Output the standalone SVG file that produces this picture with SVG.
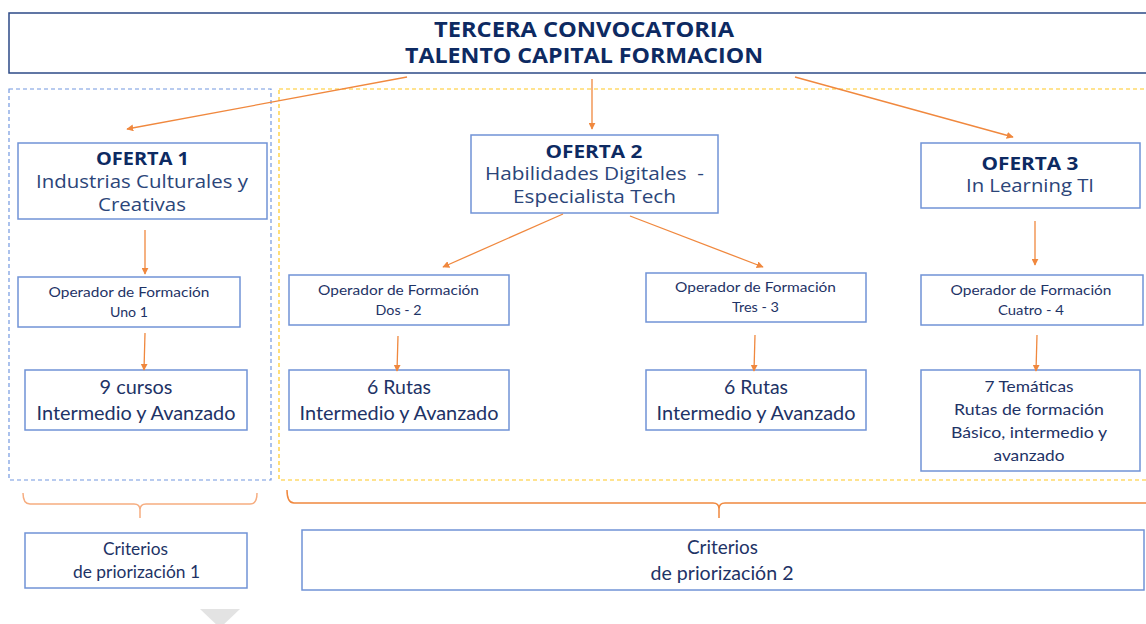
<svg xmlns="http://www.w3.org/2000/svg" width="1146" height="624" viewBox="0 0 1146 624">
<defs>
<marker id="ah" viewBox="0 0 10 10" refX="9" refY="5" markerWidth="7" markerHeight="7" markerUnits="userSpaceOnUse" orient="auto">
<path d="M0,0 L10,5 L0,10 z" fill="#f0883e"/>
</marker>
<style>
.box{fill:#fff;stroke:#7093d6;stroke-width:1.5}
.tbox{fill:#fff;stroke:#2d4a86;stroke-width:1.5}
.ttl{font-family:"Open Sans",sans-serif;font-weight:700;fill:#0d2a62;text-anchor:middle}
.mont{font-family:"Open Sans",sans-serif;fill:#2b4579;text-anchor:middle;white-space:pre}
.cal{font-family:Lato,"Liberation Sans",sans-serif;fill:#1e3366;text-anchor:middle}
.con line{stroke:#f0883e;stroke-width:1.3;marker-end:url(#ah)}
.brace{fill:none;stroke:#f6ad80;stroke-width:1.5}
</style>
</defs>
<rect width="1146" height="624" fill="#fff"/>
<rect x="9" y="89" width="262" height="391" fill="none" stroke="#7398e0" stroke-width="1.2" stroke-dasharray="4,3"/>
<rect x="279" y="89" width="875" height="391" fill="none" stroke="#ffc820" stroke-width="1.2" stroke-dasharray="4,3"/>
<g id="title">
<rect class="tbox" x="9" y="13" width="1145" height="60"/>
<text class="ttl" x="584" y="37" font-size="21" textLength="300" lengthAdjust="spacingAndGlyphs">TERCERA CONVOCATORIA</text>
<text class="ttl" x="584" y="63" font-size="21" textLength="358" lengthAdjust="spacingAndGlyphs">TALENTO CAPITAL FORMACION</text>
</g>
<g id="oferta1">
<rect class="box" x="18" y="143" width="249" height="76"/>
<text class="ttl" x="142.5" y="165" font-size="17.5" textLength="93" lengthAdjust="spacingAndGlyphs">OFERTA 1</text>
<text class="mont" x="142" y="188" font-size="18" textLength="212" lengthAdjust="spacingAndGlyphs">Industrias Culturales y</text>
<text class="mont" x="142" y="211" font-size="18" textLength="88" lengthAdjust="spacingAndGlyphs">Creativas</text>
</g>
<g id="oferta2">
<rect class="box" x="471" y="135" width="247" height="78"/>
<text class="ttl" x="594" y="158" font-size="17.5" textLength="97" lengthAdjust="spacingAndGlyphs">OFERTA 2</text>
<text class="mont" x="594.5" y="180" font-size="18" textLength="219" lengthAdjust="spacingAndGlyphs" xml:space="preserve">Habilidades Digitales  -</text>
<text class="mont" x="594.5" y="203" font-size="18" textLength="163" lengthAdjust="spacingAndGlyphs">Especialista Tech</text>
</g>
<g id="oferta3">
<rect class="box" x="921" y="143" width="219" height="65"/>
<text class="ttl" x="1030" y="170" font-size="17.5" textLength="97" lengthAdjust="spacingAndGlyphs">OFERTA 3</text>
<text class="mont" x="1030" y="192" font-size="18" textLength="128" lengthAdjust="spacingAndGlyphs">In Learning TI</text>
</g>
<g id="op1">
<rect class="box" x="18" y="277" width="222" height="50"/>
<text class="cal" x="129" y="297" font-size="14" textLength="161" lengthAdjust="spacingAndGlyphs">Operador de Formación</text>
<text class="cal" x="129" y="317" font-size="14" textLength="38" lengthAdjust="spacingAndGlyphs">Uno 1</text>
</g>
<g id="op2">
<rect class="box" x="289" y="275" width="220" height="50"/>
<text class="cal" x="398.5" y="295" font-size="14" textLength="161" lengthAdjust="spacingAndGlyphs">Operador de Formación</text>
<text class="cal" x="398.5" y="315" font-size="14" textLength="46" lengthAdjust="spacingAndGlyphs">Dos - 2</text>
</g>
<g id="op3">
<rect class="box" x="646" y="273" width="220" height="49"/>
<text class="cal" x="755.5" y="292" font-size="14" textLength="161" lengthAdjust="spacingAndGlyphs">Operador de Formación</text>
<text class="cal" x="755.5" y="312" font-size="14" textLength="47" lengthAdjust="spacingAndGlyphs">Tres - 3</text>
</g>
<g id="op4">
<rect class="box" x="921" y="275" width="222" height="50"/>
<text class="cal" x="1031" y="295" font-size="14" textLength="161" lengthAdjust="spacingAndGlyphs">Operador de Formación</text>
<text class="cal" x="1031" y="315" font-size="14" textLength="66" lengthAdjust="spacingAndGlyphs">Cuatro - 4</text>
</g>
<g id="res1">
<rect class="box" x="25" y="370" width="222" height="60"/>
<text class="cal" x="136" y="394" font-size="18.5" textLength="73" lengthAdjust="spacingAndGlyphs">9 cursos</text>
<text class="cal" x="136" y="420" font-size="18.5" textLength="199" lengthAdjust="spacingAndGlyphs">Intermedio y Avanzado</text>
</g>
<g id="res2">
<rect class="box" x="289" y="370" width="220" height="60"/>
<text class="cal" x="399" y="394" font-size="18.5" textLength="64" lengthAdjust="spacingAndGlyphs">6 Rutas</text>
<text class="cal" x="399" y="420" font-size="18.5" textLength="199" lengthAdjust="spacingAndGlyphs">Intermedio y Avanzado</text>
</g>
<g id="res3">
<rect class="box" x="646" y="370" width="220" height="60"/>
<text class="cal" x="756" y="394" font-size="18.5" textLength="64" lengthAdjust="spacingAndGlyphs">6 Rutas</text>
<text class="cal" x="756" y="420" font-size="18.5" textLength="199" lengthAdjust="spacingAndGlyphs">Intermedio y Avanzado</text>
</g>
<g id="res4">
<rect class="box" x="921" y="370" width="219" height="101"/>
<text class="cal" x="1029" y="392" font-size="16" textLength="89" lengthAdjust="spacingAndGlyphs">7 Temáticas</text>
<text class="cal" x="1029" y="415" font-size="16" textLength="150" lengthAdjust="spacingAndGlyphs">Rutas de formación</text>
<text class="cal" x="1029" y="438" font-size="16" textLength="156" lengthAdjust="spacingAndGlyphs">Básico, intermedio y</text>
<text class="cal" x="1029" y="461" font-size="16" textLength="71" lengthAdjust="spacingAndGlyphs">avanzado</text>
</g>
<g id="crit1">
<rect class="box" x="25" y="533" width="222" height="55"/>
<text class="cal" x="135.5" y="555" font-size="16.5" textLength="65" lengthAdjust="spacingAndGlyphs">Criterios</text>
<text class="cal" x="136.5" y="578" font-size="16.5" textLength="127" lengthAdjust="spacingAndGlyphs">de priorización 1</text>
</g>
<g id="crit2">
<rect class="box" x="302" y="530" width="842" height="60"/>
<text class="cal" x="722.5" y="554" font-size="18.5" textLength="71" lengthAdjust="spacingAndGlyphs">Criterios</text>
<text class="cal" x="722" y="580" font-size="18.5" textLength="143" lengthAdjust="spacingAndGlyphs">de priorización 2</text>
</g>
<g id="connectors" class="con">
<line x1="407" y1="77" x2="127" y2="129"/>
<line x1="592" y1="79" x2="592" y2="129"/>
<line x1="795" y1="77" x2="1013" y2="137"/>
<line x1="145" y1="230" x2="145" y2="274"/>
<line x1="145" y1="333" x2="144" y2="370"/>
<line x1="563" y1="214" x2="443" y2="267"/>
<line x1="630" y1="216" x2="763" y2="267"/>
<line x1="398" y1="336" x2="397" y2="371"/>
<line x1="755" y1="335" x2="754" y2="371"/>
<line x1="1035" y1="221" x2="1035" y2="265"/>
<line x1="1037" y1="335" x2="1036" y2="371"/>
</g>
<g id="braces">
<path class="brace" d="M23,493 Q23,504 30,504 L134,504 Q140,504 140,510 L140,518 M140,510 Q140,504 146,504 L250,504 Q257,504 257,493"/>
<path class="brace" style="stroke:#f0883e" d="M287,490 Q287,503 294,503 L713,503 Q719,503 719,509 L719,518 M719,509 Q719,503 725,503 L1150,503"/>
</g>
<polygon points="200,609 240,609 220,628" fill="#e3e3e3"/>
</svg>
